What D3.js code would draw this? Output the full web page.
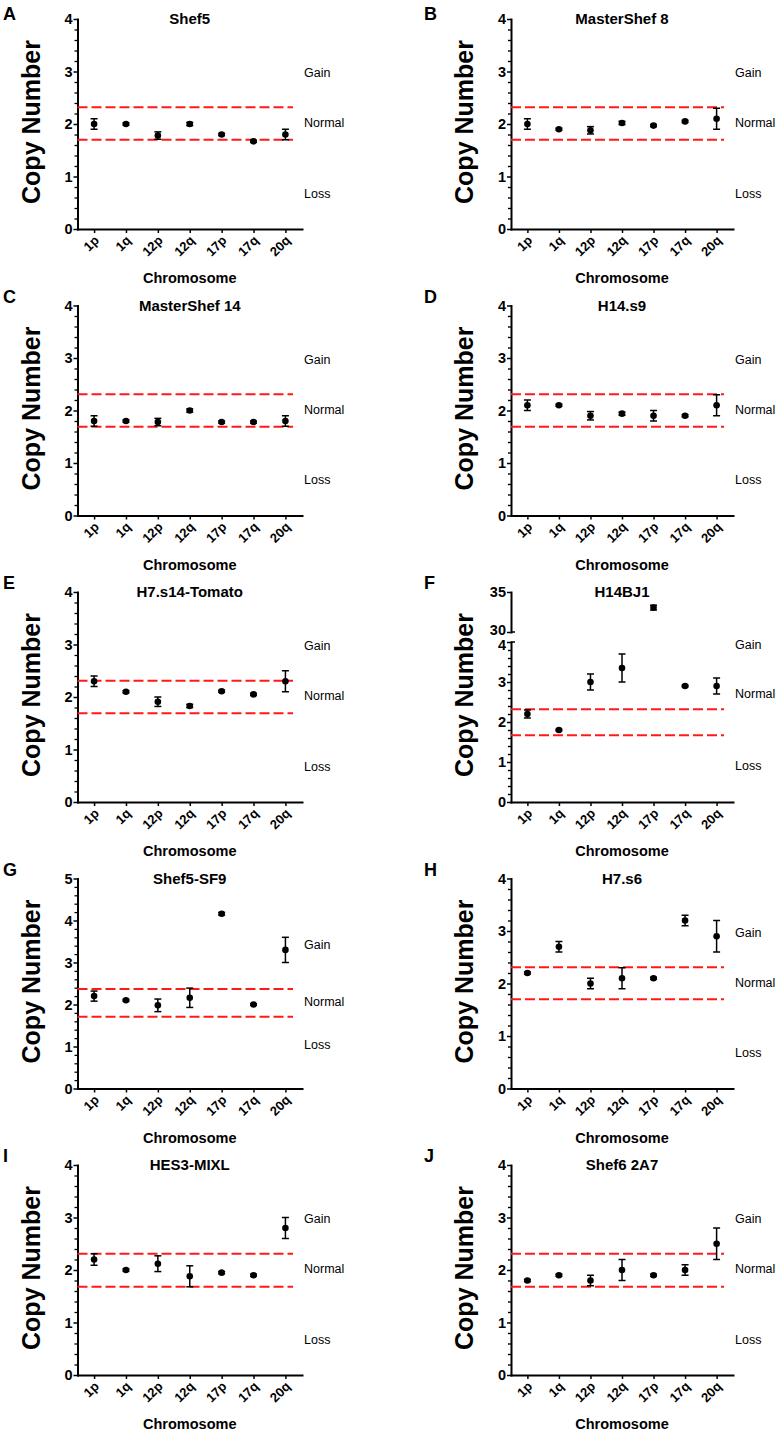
<!DOCTYPE html>
<html><head><meta charset="utf-8">
<script src="https://cdn.jsdelivr.net/npm/d3@7"></script>
<style>body{margin:0;background:#fff} svg{display:block}</style>
</head><body>
<svg id="chart" width="776" height="1437"></svg>
<script>
// ---------- data ----------
const categories = ["1p", "1q", "12p", "12q", "17p", "17q", "20q"];
const panelLetters = ["A", "B", "C", "D", "E", "F", "G", "H", "I", "J"];
const panelTitles = ["Shef5", "MasterShef 8", "MasterShef 14", "H14.s9", "H7.s14-Tomato",
                     "H14BJ1", "Shef5-SF9", "H7.s6", "HES3-MIXL", "Shef6 2A7"];

const meansA = [2.0, 2.0, 1.78, 2.0, 1.8, 1.67, 1.8];
const errsA  = [0.1, 0.02, 0.07, 0.03, 0.02, 0.02, 0.1];
const meansB = [2.0, 1.9, 1.88, 2.02, 1.97, 2.05, 2.1];
const errsB  = [0.1, 0.02, 0.07, 0.03, 0.02, 0.02, 0.2];
const meansC = [1.8, 1.8, 1.78, 2.0, 1.78, 1.78, 1.8];
const errsC  = [0.1, 0.02, 0.07, 0.03, 0.02, 0.02, 0.1];
const meansD = [2.1, 2.1, 1.9, 1.94, 1.9, 1.9, 2.1];
const errsD  = [0.1, 0.02, 0.08, 0.03, 0.1, 0.02, 0.2];
const meansE = [2.3, 2.1, 1.91, 1.83, 2.11, 2.05, 2.3];
const errsE  = [0.1, 0.02, 0.09, 0.03, 0.02, 0.02, 0.2];
const meansF = [2.2, 1.8, 3.0, 3.35, 33.05, 2.9, 2.9];
const errsF  = [0.1, 0.02, 0.2, 0.35, 0.3, 0.02, 0.2];
const meansG = [2.2, 2.1, 1.98, 2.16, 4.16, 2.0, 3.3];
const errsG  = [0.12, 0.02, 0.15, 0.23, 0.03, 0.02, 0.3];
const meansH = [2.2, 2.7, 2.0, 2.1, 2.1, 3.2, 2.9];
const errsH  = [0.02, 0.1, 0.1, 0.2, 0.02, 0.1, 0.3];
const meansI = [2.2, 2.0, 2.12, 1.88, 1.95, 1.9, 2.8];
const errsI  = [0.11, 0.02, 0.15, 0.2, 0.02, 0.02, 0.2];
const meansJ = [1.8, 1.9, 1.8, 2.0, 1.9, 2.0, 2.5];
const errsJ  = [0.02, 0.02, 0.1, 0.2, 0.02, 0.1, 0.3];

const yMaxes = [4, 4, 4, 4, 4, 4, 5, 4, 4, 4];
const gainThresholds = [2.32, 2.32, 2.31, 2.31, 2.31, 2.32, 2.37, 2.31, 2.31, 2.31];
const lossThresholds = [1.70, 1.70, 1.69, 1.69, 1.69, 1.67, 1.71, 1.70, 1.68, 1.68];
const zoneLabels = ["Gain", "Normal", "Loss"];
const zoneLabelValues = [
  [2.97, 2.02, 0.68], [2.97, 2.02, 0.68], [2.97, 2.02, 0.68], [2.97, 2.02, 0.68],
  [2.97, 2.02, 0.68], [3.93, 2.7, 0.9], [3.43, 2.08, 1.05], [2.97, 2.02, 0.68],
  [2.97, 2.02, 0.68], [2.97, 2.02, 0.68]
];
const brokenPanel = 5;            // panel F has a broken y axis
const brokenUpperDomain = [30, 35];
const brokenLowerDomain = [0, 4];
const yAxisTitle = "Copy Number";
const xAxisTitle = "Chromosome";

const allMeans = [meansA, meansB, meansC, meansD, meansE, meansF, meansG, meansH, meansI, meansJ];
const allErrs = [errsA, errsB, errsC, errsD, errsE, errsF, errsG, errsH, errsI, errsJ];

// ---------- drawing ----------
const FONT = "'Liberation Sans', Arial, Helvetica, sans-serif";
const svg = d3.select("#chart").style("font-family", FONT);

function styleAxis(sel) {
  sel.attr("font-family", null).attr("font-size", null);
  sel.select(".domain").attr("stroke", "#000").attr("stroke-width", 2).attr("stroke-linecap", "square");
  sel.selectAll(".tick line").attr("stroke", "#000").attr("stroke-width", 1.5);
  sel.selectAll(".tick text").attr("fill", "#000").style("font-family", FONT);
}

panelTitles.forEach((title, i) => {
  const col = i % 2, row = Math.floor(i / 2);
  const ax = col ? 511 : 77.5;
  const axEnd = col ? 733 : 302;
  const top = 19 + row * 286.5;
  const zero = top + 210;
  const g = svg.append("g");

  const x = d3.scalePoint().domain(categories).range([ax, axEnd]).padding(0.52);

  let yOf, yLow, yUp = null;
  if (i === brokenPanel) {
    yLow = d3.scaleLinear().domain(brokenLowerDomain).range([zero, zero - 160]);
    yUp = d3.scaleLinear().domain(brokenUpperDomain).range([top + 40, top]);
    yOf = v => v >= brokenUpperDomain[0] ? yUp(v) : yLow(v);
  } else {
    yLow = d3.scaleLinear().domain([0, yMaxes[i]]).range([zero, top]);
    yOf = yLow;
  }
  const lowMax = yLow.domain()[1];

  // minor ticks
  const minorVals = d3.range(0, lowMax + 0.001, 0.2).filter(v => Math.abs(v - Math.round(v)) > 0.01);
  const minor = g.append("g").attr("transform", `translate(${ax},0)`)
    .call(d3.axisLeft(yLow).tickValues(minorVals).tickSize(3).tickSizeOuter(0).tickFormat(""));
  minor.select(".domain").remove();
  minor.selectAll(".tick line").attr("stroke", "#000").attr("stroke-width", 1.3);

  // major y axis
  const major = g.append("g").attr("transform", `translate(${ax},0)`)
    .call(d3.axisLeft(yLow).tickValues(d3.range(0, lowMax + 0.001, 1)).tickSize(4).tickSizeOuter(0)
      .tickPadding(1).tickFormat(d3.format("d")));
  styleAxis(major);
  major.selectAll(".tick text").style("font-size", "14.5px").style("font-weight", "bold");

  if (yUp) {
    const up = g.append("g").attr("transform", `translate(${ax},0)`)
      .call(d3.axisLeft(yUp).tickValues(brokenUpperDomain).tickSize(4).tickSizeOuter(0)
        .tickPadding(1).tickFormat(d3.format("d")));
    styleAxis(up);
    up.selectAll(".tick text").style("font-size", "14.5px").style("font-weight", "bold")
      .attr("dy", d => d === brokenUpperDomain[0] ? "0.15em" : "0.32em");
    major.selectAll(".tick text").filter(d => d === lowMax).attr("dy", "0.55em");
    // break marks
    g.append("line").attr("x1", ax).attr("x2", ax + 4).attr("y1", yUp(brokenUpperDomain[0])).attr("y2", yUp(brokenUpperDomain[0]))
      .attr("stroke", "#000").attr("stroke-width", 1.5);
    g.append("line").attr("x1", ax).attr("x2", ax + 4).attr("y1", yLow(lowMax)).attr("y2", yLow(lowMax))
      .attr("stroke", "#000").attr("stroke-width", 1.5);
  }

  // x axis
  const xa = g.append("g").attr("transform", `translate(0,${zero})`)
    .call(d3.axisBottom(x).tickSize(4).tickSizeOuter(0));
  styleAxis(xa);
  xa.selectAll(".tick text")
    .attr("x", 0).attr("y", 0).attr("dy", "0.35em")
    .attr("transform", "translate(2,9) rotate(-45)")
    .style("text-anchor", "end")
    .style("font-size", "13px").style("font-weight", "bold");

  // threshold lines
  [gainThresholds[i], lossThresholds[i]].forEach(t => {
    g.append("line").attr("x1", ax).attr("x2", axEnd - 9)
      .attr("y1", yLow(t)).attr("y2", yLow(t))
      .attr("stroke", "#ff1a1a").attr("stroke-width", 2).attr("stroke-dasharray", "10,4");
  });

  // zone labels
  zoneLabels.forEach((lab, k) => {
    g.append("text").attr("x", axEnd + 2).attr("y", yLow(zoneLabelValues[i][k])).attr("dy", "0.35em")
      .attr("font-size", 12.5).attr("fill", "#000").text(lab);
  });

  // data
  const pts = categories.map((c, k) => ({ c, m: allMeans[i][k], e: allErrs[i][k] }));
  const eb = g.append("g");
  pts.forEach(d => {
    const cx = x(d.c), y1 = yOf(d.m - d.e), y2 = yOf(d.m + d.e);
    eb.append("line").attr("x1", cx).attr("x2", cx).attr("y1", y1).attr("y2", y2).attr("stroke", "#000").attr("stroke-width", 1.5);
    [y1, y2].forEach(yy => eb.append("line").attr("x1", cx - 3.5).attr("x2", cx + 3.5).attr("y1", yy).attr("y2", yy)
      .attr("stroke", "#000").attr("stroke-width", 1.5));
  });
  g.append("g").selectAll("circle").data(pts).join("circle")
    .attr("cx", d => x(d.c)).attr("cy", d => yOf(d.m)).attr("r", 3.3).attr("fill", "#000");

  // titles
  g.append("text").attr("x", (ax + axEnd) / 2).attr("y", top + 5).attr("text-anchor", "middle")
    .attr("font-size", 15).attr("font-weight", "bold").text(title);
  g.append("text").attr("x", (ax + axEnd) / 2).attr("y", zero + 54).attr("text-anchor", "middle")
    .attr("font-size", 14.5).attr("font-weight", "bold").text(xAxisTitle);
  g.append("text").attr("transform", `translate(${ax - 38},${top + 103}) rotate(-90)`)
    .attr("text-anchor", "middle").attr("font-size", 25).attr("font-weight", "bold").text(yAxisTitle);
  g.append("text").attr("x", col ? 424 : 3).attr("y", row === 0 ? 20 : top - 3)
    .attr("font-size", 18).attr("font-weight", "bold").text(panelLetters[i]);
});
</script>
</body></html>
